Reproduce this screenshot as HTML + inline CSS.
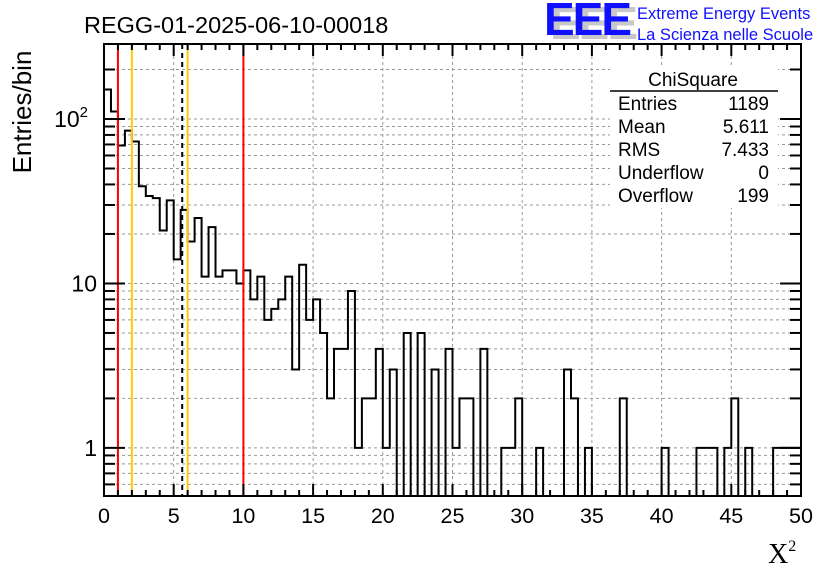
<!DOCTYPE html>
<html><head><meta charset="utf-8"><style>
body{margin:0;background:#fff;}
svg{display:block;font-family:"Liberation Sans",sans-serif;}
</style></head><body>
<svg id="c" width="836" height="572" viewBox="0 0 836 572">
<rect width="836" height="572" fill="#fff"/>
<g id="grid"></g>
<g id="marks"></g>
<g id="axes"></g>
<text x="84" y="33" font-size="23.5">REGG-01-2025-06-10-00018</text>
<g>
<text x="550" y="39" font-size="46" font-weight="bold" fill="#c8c8c8" letter-spacing="-2">EEE</text>
<text x="544" y="35" font-size="46" font-weight="bold" fill="#1010ff" letter-spacing="-2">EEE</text>
<text x="637" y="19" font-size="16.5" fill="#1010ff">Extreme Energy Events</text>
<text x="637" y="40" font-size="16.5" fill="#1010ff">La Scienza nelle Scuole</text>
</g>
<g>
<rect x="610" y="68" width="168" height="140" fill="#fff"/>
<text x="693" y="86" font-size="19" text-anchor="middle">ChiSquare</text>
<line x1="610" y1="91" x2="778" y2="91" stroke="#000" stroke-width="1.5"/>
<text x="618" y="110" font-size="19">Entries</text><text x="769" y="110" font-size="19" text-anchor="end">1189</text>
<text x="618" y="133" font-size="19">Mean</text><text x="769" y="133" font-size="19" text-anchor="end">5.611</text>
<text x="618" y="156" font-size="19">RMS</text><text x="769" y="156" font-size="19" text-anchor="end">7.433</text>
<text x="618" y="179" font-size="19">Underflow</text><text x="769" y="179" font-size="19" text-anchor="end">0</text>
<text x="618" y="202" font-size="19">Overflow</text><text x="769" y="202" font-size="19" text-anchor="end">199</text>
</g>
<text transform="translate(31,112) rotate(-90)" font-size="26" text-anchor="middle">Entries/bin</text>
<text x="768" y="563" font-size="28" font-family="Liberation Serif,serif">X<tspan font-size="16" dy="-12">2</tspan></text>
</svg>
<script>
const counts = [151,111,69,85,73,39,34,33,21,32,14,28,18,25,11,22,11,12,12,10,
12,8,11,6,7,8,11,3,13,6,8,5,2,4,4,9,1,2,2,4,
1,3,0,5,0,5,0,3,0,4,1,2,2,0,4,0,0,1,1,2,
0,0,1,0,0,0,3,2,0,1,0,0,0,0,2,0,0,0,0,0,
1,0,0,0,0,1,1,1,0,1,2,0,1,0,0,0,1,1,1,1];
const binWidth = [0.5];
const xTicks = [0,5,10,15,20,25,30,35,40,45,50];
const vLinesRed = [1,10];
const vLinesYellow = [2,6];
const meanValue = [5.611];

const NS='http://www.w3.org/2000/svg';
const L=104,R=801,T=44,B=496;
const xmin=0,xmax=50,lmin=Math.log10(0.51),lmax=2.456;
const X=v=>L+(v-xmin)/(xmax-xmin)*(R-L);
const Y=v=>{if(v<=0)return B;return B-(Math.log10(v)-lmin)/(lmax-lmin)*(B-T);};
function mk(tag,attrs,parent){const e=document.createElementNS(NS,tag);for(const k in attrs)e.setAttribute(k,attrs[k]);parent.appendChild(e);return e;}
const grid=document.getElementById('grid'),marks=document.getElementById('marks'),axes=document.getElementById('axes');
xTicks.forEach(t=>{if(t>xmin&&t<xmax){const g=mk('line',{x1:X(t),x2:X(t),y1:T,y2:B,stroke:'#999','stroke-dasharray':'3,3','stroke-width':1},grid);

}});
const yTickVals=[];
for(let d=-1;d<=2;d++)for(let m=1;m<=9;m++){const v=m*Math.pow(10,d);if(Math.log10(v)>lmin&&Math.log10(v)<lmax)yTickVals.push(v);}
yTickVals.forEach(v=>{const g=mk('line',{x1:L,x2:R,y1:Y(v),y2:Y(v),stroke:'#999','stroke-dasharray':'3,3','stroke-width':1},grid);

});
let d='';const w=binWidth[0];
counts.forEach((c,i)=>{const x0=X(i*w),x1=X((i+1)*w),y=Y(c);
if(i===0)d+='M'+x0+','+y;else d+='L'+x0+','+y;d+='L'+x1+','+y;});
const h=mk('path',{d:d,fill:'none',stroke:'#000','stroke-width':2},marks);


vLinesRed.forEach(v=>{const l=mk('line',{x1:X(v),x2:X(v),y1:T,y2:B,stroke:'#f00','stroke-width':2},marks);

});
vLinesYellow.forEach(v=>{const l=mk('line',{x1:X(v),x2:X(v),y1:T,y2:B,stroke:'#fc0','stroke-width':2},marks);

});
const ml=mk('line',{x1:X(meanValue[0]),x2:X(meanValue[0]),y1:T,y2:B,stroke:'#000','stroke-width':2,'stroke-dasharray':'5,4'},marks);


const fr=mk('rect',{x:L,y:T,width:R-L,height:B-T,fill:'none',stroke:'#000','stroke-width':2},axes);


for(let t=xmin;t<=xmax;t++){const major=t%5===0,len=major?12:6;
mk('line',{x1:X(t),x2:X(t),y1:B,y2:B-len,stroke:'#000','stroke-width':2},axes);
mk('line',{x1:X(t),x2:X(t),y1:T,y2:T+len,stroke:'#000','stroke-width':2},axes);}
xTicks.forEach(t=>{const tx=mk('text',{x:X(t),y:523,'font-size':21.5,'text-anchor':'middle'},axes);tx.textContent=t;

});
yTickVals.forEach(v=>{const major=Math.abs(Math.log10(v)-Math.round(Math.log10(v)))<1e-9,len=major?21:11;
mk('line',{x1:L,x2:L+len,y1:Y(v),y2:Y(v),stroke:'#000','stroke-width':2},axes);
mk('line',{x1:R,x2:R-len,y1:Y(v),y2:Y(v),stroke:'#000','stroke-width':2},axes);});
const yl=[[1,'1'],[10,'10'],[100,'10']];
yl.forEach(([v,s])=>{const tx=mk('text',{x:v===100?88:97,y:Y(v)+8,'font-size':23,'text-anchor':'end'},axes);tx.textContent=s;
if(v===100){const sp=mk('tspan',{'font-size':15,dy:-10},tx);sp.textContent='2';}

});
</script>
</body></html>
